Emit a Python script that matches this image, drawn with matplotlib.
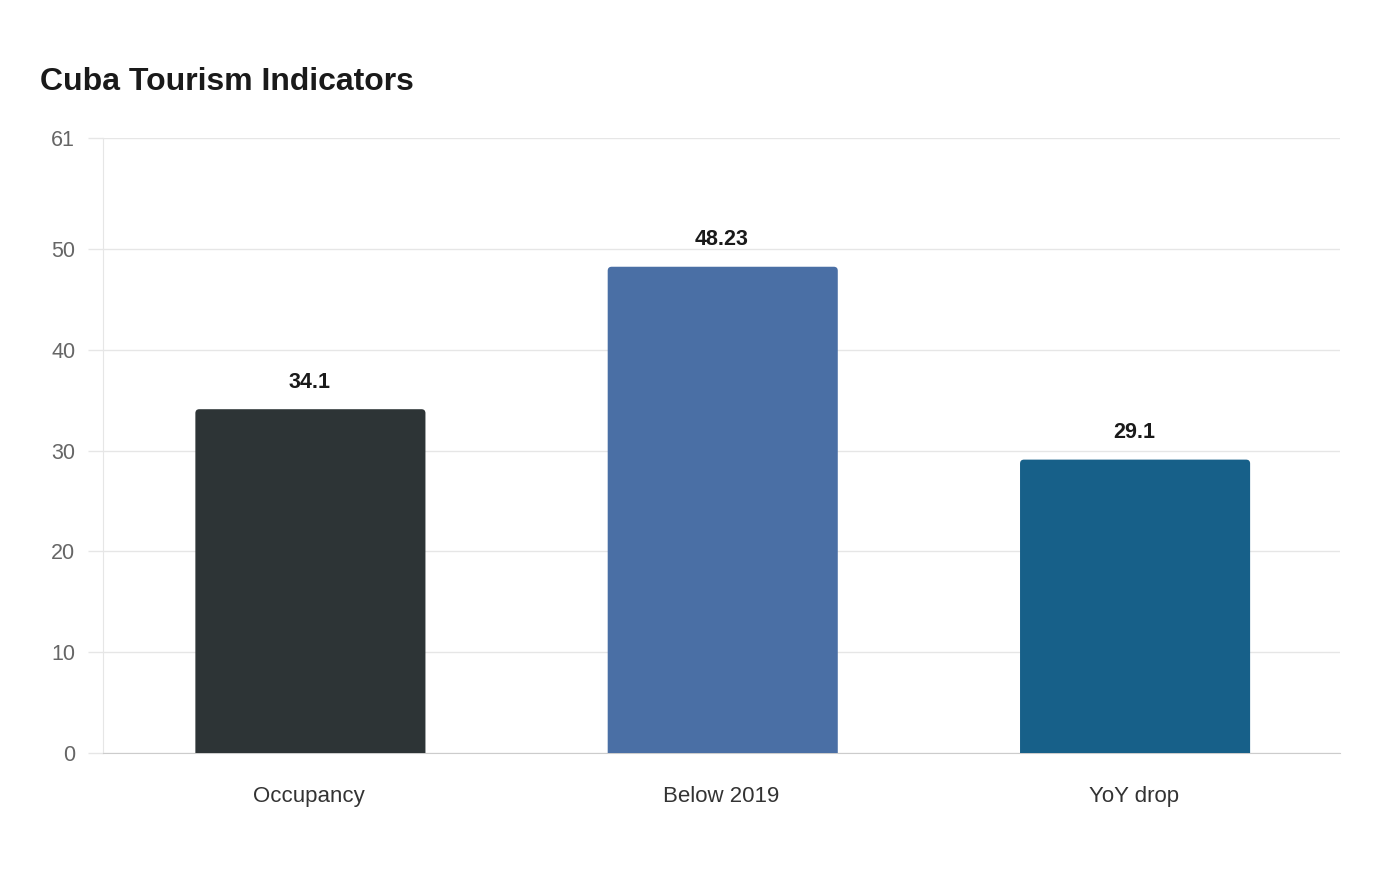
import matplotlib

matplotlib.use("Agg")
import matplotlib.pyplot as plt
from matplotlib.patches import PathPatch
from matplotlib.path import Path

plt.rcParams["font.family"] = ["Liberation Sans", "DejaVu Sans"]

categories = ["Occupancy", "Below 2019", "YoY drop"]
values = [34.1, 48.23, 29.1]
value_labels = ["34.1", "48.23", "29.1"]
colors = ["#2d3436", "#4a6fa5", "#176089"]
y_ticks = [0, 10, 20, 30, 40, 50, 61]

fig = plt.figure(figsize=(14, 8.8), dpi=100)
ax = fig.add_axes([103 / 1400, 1 - 753 / 880, 1237 / 1400, 615 / 880])

ax.set_xlim(-0.5, len(categories) - 0.5)
ax.set_ylim(0, 61)

bar_w = 0.558
# top corners rounded by ~4px, done in data units for each axis
rx = 4 / (1237 / 3.0)
ry = 4 / (615 / 61.0)


def top_rounded_bar(x, h, width):
    l, r = x - width / 2, x + width / 2
    verts = [(l, 0), (l, h - ry), (l, h), (l + rx, h), (r - rx, h), (r, h),
             (r, h - ry), (r, 0), (l, 0)]
    codes = [Path.MOVETO, Path.LINETO, Path.CURVE3, Path.CURVE3, Path.LINETO,
             Path.CURVE3, Path.CURVE3, Path.LINETO, Path.CLOSEPOLY]
    return Path(verts, codes)


for i, (v, c) in enumerate(zip(values, colors)):
    ax.add_patch(PathPatch(top_rounded_bar(i + 0.003, v, bar_w), fc=c, ec="none", zorder=3))
    ax.annotate(value_labels[i], (i, v), xytext=(0, 19.5), textcoords="offset points",
                ha="center", va="center", fontsize=15.5, fontweight="bold", color="#1a1a1a")

ax.set_xticks(range(len(categories)))
ax.set_xticklabels(categories, fontsize=16, color="#333333")
ax.tick_params(axis="x", length=0, pad=24)
ax.set_yticks(y_ticks)
ax.set_yticklabels([str(t) for t in y_ticks], fontsize=15.5, color="#666666")
ax.tick_params(axis="y", length=11, width=1, color="#e6e6e6", pad=9)

ax.grid(axis="y", color="#e6e6e6", linewidth=1, zorder=0)
ax.set_axisbelow(True)
for side in ["top", "right"]:
    ax.spines[side].set_visible(False)
ax.spines["left"].set_color("#e6e6e6")
ax.spines["bottom"].set_color("#cccccc")

fig.text(40 / 1400, 1 - 82 / 880, "Cuba Tourism Indicators", fontsize=23,
         fontweight="bold", color="#1a1a1a", va="center", ha="left")

fig.savefig("out.png", dpi=100)
